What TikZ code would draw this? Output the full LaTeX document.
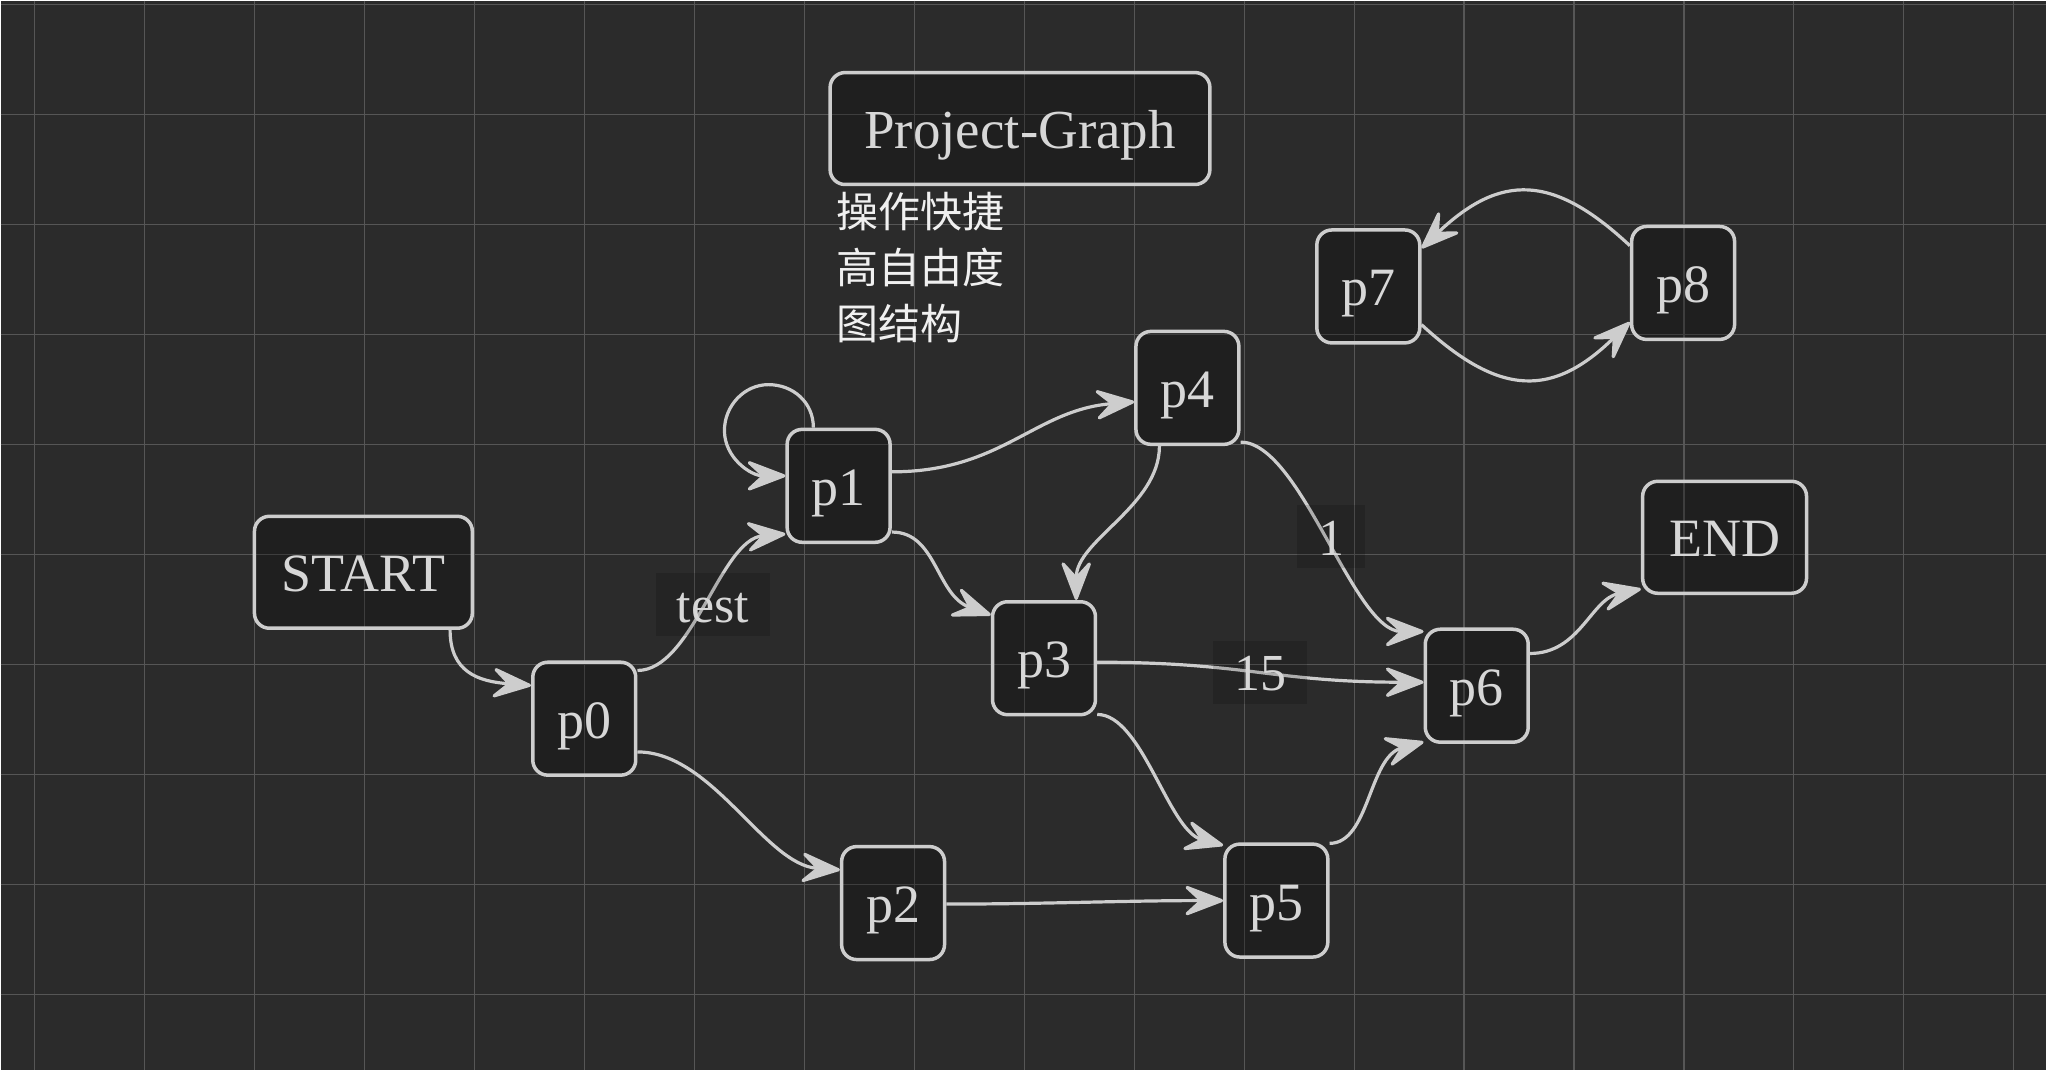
\documentclass[tikz,border=0pt]{standalone}
\usepackage{fontspec}
\setmainfont{Liberation Serif}
\newfontfamily\cjk{Noto Sans CJK SC}
\usetikzlibrary{arrows.meta,calc}
\pgfdeclarelayer{gridlayer}
\pgfdeclarelayer{edgelayer}
\pgfsetlayers{gridlayer,edgelayer,main}
\definecolor{bgc}{RGB}{43,43,43}
\definecolor{gridc}{RGB}{86,86,86}
\definecolor{linec}{RGB}{205,205,205}
\definecolor{textc}{RGB}{215,215,215}
\definecolor{cjkc}{RGB}{240,240,240}
\begin{document}
\begin{tikzpicture}[x=1pt,y=-1pt,
  box/.style={draw=linec, line width=3.5pt, fill=black, fill opacity=0.28, draw opacity=1, text opacity=1,
    rounded corners=15pt, text=textc, font=\fontsize{54}{60}\selectfont, inner sep=0pt,
    text height=39pt, text depth=0pt},
  pnode/.style={box, minimum width=103pt, minimum height=113pt},
  conn/.style={draw=linec, line width=3.2pt,
    -{Stealth[length=46pt,width=35pt,inset=19pt,round]}},
  lab/.style={fill=black, fill opacity=0.15, text opacity=1, text=textc, inner xsep=21pt, inner ysep=0pt,
    minimum height=63pt, text height=37pt, text depth=0pt, font=\fontsize{52}{60}\selectfont}
]
% background and grid
\begin{pgfonlayer}{gridlayer}
\fill[bgc] (0,0) rectangle (2047,1070);
\foreach \i in {0,...,18} \draw[gridc, line width=1.2pt] ({34.3+110*\i},0) -- ({34.3+110*\i},1070);
\foreach \j in {0,...,9} \draw[gridc, line width=1.2pt] (0,{4.3+110*\j}) -- (2047,{4.3+110*\j});
\end{pgfonlayer}
\useasboundingbox (0,0) rectangle (2047,1070);

% nodes
\node[box, minimum width=380pt, minimum height=112pt, font=\fontsize{55}{60}\selectfont] (title) at (1020,128) {Project-Graph};
\node[anchor=north west, align=left, inner sep=0pt, text=cjkc, font=\cjk\fontsize{42}{56}\selectfont] (desc) at (836,192) {操作快捷\\高自由度\\图结构};
\node[box, minimum width=218pt, minimum height=112pt] (start) at (363,572) {START};
\node[box, minimum width=164pt, minimum height=112pt] (end) at (1725,537) {END};
\node[pnode] (p0) at (584,718.5) {p0};
\node[pnode] (p1) at (838.5,485.5) {p1};
\node[pnode] (p2) at (893,903) {p2};
\node[pnode] (p3) at (1044,658) {p3};
\node[pnode] (p4) at (1187.5,387.5) {p4};
\node[pnode] (p5) at (1276.5,900.5) {p5};
\node[pnode] (p6) at (1477,685.5) {p6};
\node[pnode] (p7) at (1368.5,286) {p7};
\node[pnode] (p8) at (1683.5,282.5) {p8};

% connectors
\begin{pgfonlayer}{edgelayer}
\draw[conn] ($(start.south east)+(-24,0)$) .. controls +(0,42) and +(-53,-4) .. ($(p0.north west)+(0,25)$);
\draw[conn] ($(p0.north east)+(0,10)$) .. controls +(55,0) and +(-65,5) .. node[lab, xshift=5pt] {test} ($(p1.south west)+(0,-10)$);
\draw[conn] ($(p1.north west)+(28,0)$) .. controls +(0,-25) and +(25,0) .. ++(-45,-43)
   .. controls +(-24,0) and +(0,-25) .. ++(-44,46)
   .. controls +(0,27) and +(-35,0) .. ($(p1.west)+(0,-10)$);
\draw[conn] ($(p1.east)+(0,-14)$) .. controls +(110,0) and +(-100,8) .. ($(p4.west)+(0,14)$);
\draw[conn] ($(p1.south east)+(0,-12)$) .. controls +(45,0) and +(-55,-20) .. ($(p3.north west)+(0,15)$);
\draw[conn] ($(p4.south)+(-28,0)$) .. controls +(0,60) and +(0,-60) .. ($(p3.north east)+(-21,0)$);
\draw[conn] ($(p4.south east)+(0,-4)$) .. controls +(60,0) and +(-70,0) .. node[lab, xshift=3pt] {1} ($(p6.north west)+(0,4)$);
\draw[conn] ($(p3.east)+(0,4)$) .. controls +(150,0) and +(-150,0) .. node[lab] {15} ($(p6.west)+(0,-3.5)$);
\draw[conn] ($(p3.south east)+(0,-2)$) .. controls +(45,0) and +(-55,-15) .. ($(p5.north west)+(0,3)$);
\draw[conn] ($(p5.north east)+(0,1)$) .. controls +(40,0) and +(-55,15) .. ($(p6.south west)+(0,-2)$);
\draw[conn] ($(p6.north east)+(0,26)$) .. controls +(50,0) and +(-50,10) .. ($(end.south west)+(0,-6)$);
\draw[conn] ($(p0.south east)+(0,-25)$) .. controls +(75,0) and +(-75,-5) .. ($(p2.north west)+(0,25)$);
\draw[conn] ($(p2.east)+(0,1)$) .. controls +(100,0) and +(-100,0) .. (p5.west);
\draw[conn] ($(p7.south east)+(0,-20)$) .. controls +(79,73) and +(-77,75) .. ($(p8.south west)+(0,-19)$);
\draw[conn] ($(p8.north west)+(0,21)$) .. controls +(-77,-72) and +(79,-75) .. ($(p7.north east)+(0,20)$);
\end{pgfonlayer}
\end{tikzpicture}
\end{document}
